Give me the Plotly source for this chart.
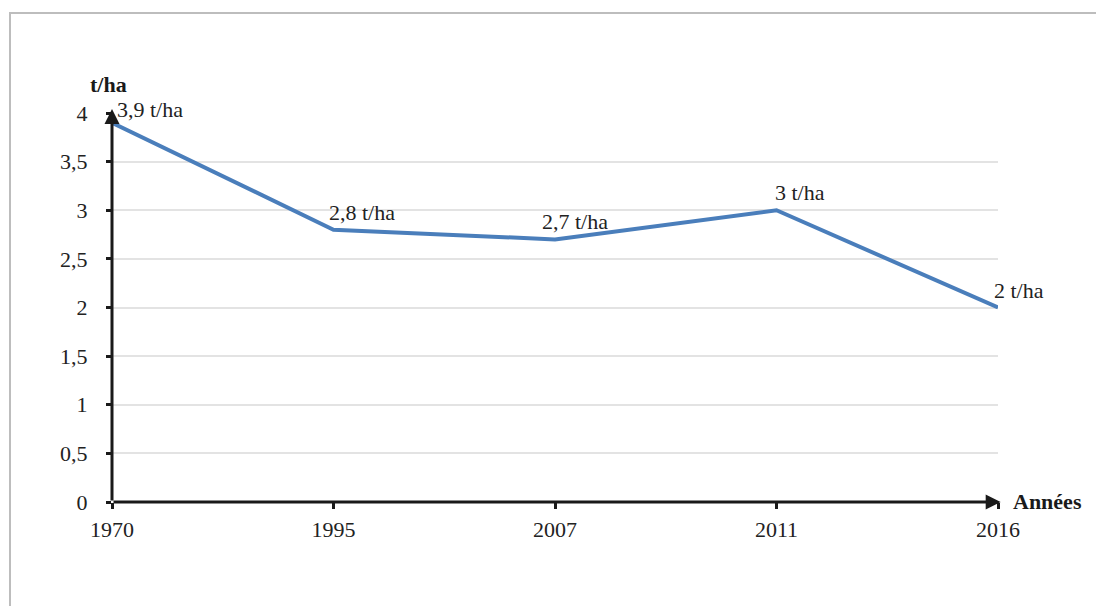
import plotly.graph_objects as go

years = ["1970", "1995", "2007", "2011", "2016"]
yields = [3.9, 2.8, 2.7, 3.0, 2.0]
labels = ["3,9 t/ha", "2,8 t/ha", "2,7 t/ha", "3 t/ha", "2 t/ha"]
y_ticks = [0, 0.5, 1, 1.5, 2, 2.5, 3, 3.5, 4]
y_ticktext = ["0", "0,5", "1", "1,5", "2", "2,5", "3", "3,5", "4"]

label_xshift = [3, -7, -15, -4, -6]
label_yshift = [-1, 3, 3, 3, 3]

OFF = 8  # page body offset
W, H = 1104, 606
ML, MR, MT, MB = 112 - OFF, 106 + OFF, 113 - OFF, 104 + OFF
PW, PH = W - ML - MR, H - MT - MB

def px_x(p):
    return (p - OFF - ML) / PW

def px_y(p):
    return (H - MB - (p - OFF)) / PH

serif = "Liberation Serif"
xi = list(range(len(years)))

fig = go.Figure()
fig.add_trace(go.Scatter(
    x=xi, y=yields, mode="lines",
    line=dict(color="#4A7EBB", width=4),
    cliponaxis=False, hoverinfo="skip", showlegend=False,
))

annotations = []
for i, lab in enumerate(labels):
    annotations.append(dict(
        x=xi[i], y=yields[i], xref="x", yref="y", text=lab, showarrow=False,
        xanchor="left", yanchor="bottom", xshift=label_xshift[i], yshift=label_yshift[i],
        font=dict(family=serif, size=22, color="#222222"),
    ))

# axis arrows
annotations.append(dict(x=xi[-1] + 0.012, y=0, ax=xi[0], ay=0, xref="x", yref="y",
                        axref="x", ayref="y", showarrow=True, arrowhead=2,
                        arrowsize=1.0, arrowwidth=3, arrowcolor="#1a1a1a", text=""))
annotations.append(dict(x=0, y=4.04, ax=0, ay=0, xref="x", yref="y",
                        axref="x", ayref="y", showarrow=True, arrowhead=2,
                        arrowsize=1.0, arrowwidth=3, arrowcolor="#1a1a1a", text=""))

annotations.append(dict(x=px_x(108), y=px_y(85), xref="paper", yref="paper",
                        text="<b>t/ha</b>", showarrow=False, xanchor="center", yanchor="middle",
                        font=dict(family=serif, size=22, color="#1a1a1a")))
annotations.append(dict(x=px_x(1011), y=px_y(501), xref="paper", yref="paper",
                        text="<b>Années</b>", showarrow=False, xanchor="left", yanchor="middle",
                        font=dict(family=serif, size=22, color="#1a1a1a")))

fig.update_layout(
    width=W, height=H, autosize=False,
    margin=dict(l=ML, r=MR, t=MT, b=MB),
    paper_bgcolor="white", plot_bgcolor="white",
    showlegend=False,
    annotations=annotations,
    shapes=[dict(type="rect", xref="paper", yref="paper",
                 x0=px_x(10), x1=px_x(W + 20), y0=px_y(H + 20), y1=px_y(13),
                 line=dict(color="#BDBDBD", width=2), fillcolor="rgba(0,0,0,0)", layer="below")],
    xaxis=dict(
        range=[0, len(years) - 1], tickvals=xi, ticktext=years,
        showgrid=False, zeroline=False, showline=False,
        ticks="outside", ticklen=6, tickwidth=3, tickcolor="#1a1a1a",
        ticklabelstandoff=2,
        tickfont=dict(family=serif, size=22, color="#222222"),
    ),
    yaxis=dict(
        range=[0, 4], tickvals=y_ticks, ticktext=y_ticktext,
        showgrid=True, gridcolor="#E3E3E3", gridwidth=1.5,
        zeroline=False, showline=False,
        ticks="outside", ticklen=5, tickwidth=3, tickcolor="#1a1a1a",
        ticklabelstandoff=14,
        tickfont=dict(family=serif, size=22, color="#222222"),
    ),
)

fig.write_html("out.html")
